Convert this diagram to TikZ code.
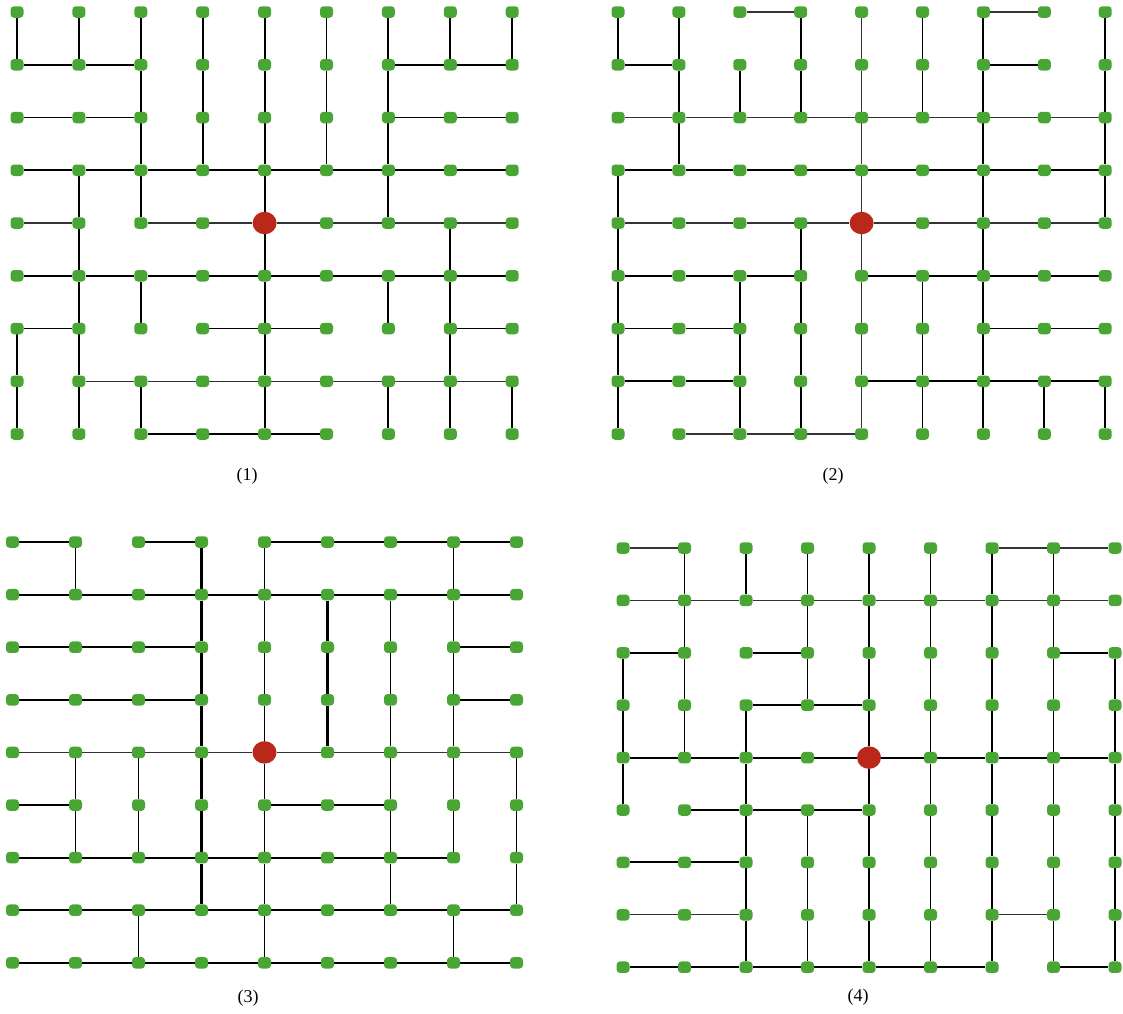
\documentclass[tikz,border=0pt]{standalone}
\usepackage{fontspec}
\setmainfont{Liberation Serif}
\pgfdeclarelayer{bg}
\pgfsetlayers{bg,main}
\definecolor{gnode}{RGB}{74,166,52}
\definecolor{rnode}{RGB}{186,40,26}
\tikzset{
 gn/.style={draw=none, fill=gnode, rounded corners=3.5pt, minimum width=13pt, minimum height=11.5pt, inner sep=0pt},
 rn/.style={ellipse, fill=rnode, minimum width=24pt, minimum height=22.5pt, inner sep=0pt},
 ed/.style={line width=1.9pt, black},
 thinedge/.style={line width=1.3pt, black!80},
 thickedge/.style={line width=2.8pt, black},
 captext/.style={font=\fontsize{18}{21}\selectfont, inner sep=0pt}
}
\usetikzlibrary{shapes.geometric}
\newcommand\mkpanel[5]{%
 \foreach \c in {0,...,8}{\foreach \r in {0,...,8}{%
   \def\st{gn}\ifnum\c=4 \ifnum\r=4 \def\st{rn}\fi\fi
   \node[\st] (#1-\c-\r) at ({#2+\c*#3}, {#4+\r*#5}) {};
 }}%
}
\newcommand\hed[4]{%
 \foreach \c in {#4}{\pgfmathtruncatemacro\nextc{\c+1}\draw[#3] (#1-\c-#2) -- (#1-\nextc-#2);}}
\newcommand\ved[4]{%
 \foreach \c in {#4}{\pgfmathtruncatemacro\nextr{#2+1}\draw[#3] (#1-\c-#2) -- (#1-\c-\nextr);}}
\begin{document}
\begin{tikzpicture}[x=1pt,y=-1pt]
\useasboundingbox (0,0) rectangle (1123,1013);
\mkpanel{A}{17}{61.9}{12}{52.75}
\mkpanel{B}{618}{60.9}{12}{52.75}
\mkpanel{C}{12.5}{63.0}{542}{52.6}
\mkpanel{D}{623}{61.5}{548}{52.4}
\node[captext] (capA) at (247,476) {(1)};
\node[captext] (capB) at (833,476) {(2)};
\node[captext] (capC) at (248,998) {(3)};
\node[captext] (capD) at (858,997) {(4)};
\begin{pgfonlayer}{bg}
% panel 1
\hed{A}{1}{ed}{0,1,6,7}
\hed{A}{2}{ed}{0,1,6,7}
\hed{A}{3}{ed}{0,...,7}
\hed{A}{4}{thinedge}{0,2,3,4,5,6,7}
\hed{A}{5}{ed}{0,...,7}
\hed{A}{6}{ed}{0,3,4,7}
\hed{A}{7}{thinedge}{1,2,3,4,5,6,7}
\hed{A}{8}{ed}{2,3,4}
\ved{A}{0}{ed}{0,...,8}
\ved{A}{1}{ed}{2,3,4,5,6}
\ved{A}{2}{ed}{2,3,4,5,6}
\ved{A}{3}{ed}{1,2,4,6}
\ved{A}{4}{ed}{1,4,7}
\ved{A}{5}{ed}{1,2,4,6,7}
\ved{A}{6}{ed}{0,1,4,7}
\ved{A}{7}{ed}{0,1,2,4,6,7,8}
% panel 2
\hed{B}{0}{thinedge}{2,6}
\hed{B}{1}{ed}{0,6}
\hed{B}{2}{thinedge}{0,...,7}
\hed{B}{3}{ed}{0,...,7}
\hed{B}{4}{thinedge}{0,...,7}
\hed{B}{5}{ed}{0,1,2,4,5,6,7}
\hed{B}{6}{ed}{0,1,6,7}
\hed{B}{7}{ed}{0,1,4,5,6,7}
\hed{B}{8}{thinedge}{1,2,3}
\ved{B}{0}{ed}{0,1,3,5,6,8}
\ved{B}{1}{ed}{1,2,3,5,6,8}
\ved{B}{2}{ed}{1,6,8}
\ved{B}{3}{ed}{0,6,8}
\ved{B}{4}{ed}{0,3,6}
\ved{B}{5}{ed}{0,2,3,5,6}
\ved{B}{6}{ed}{0,2,3,5,6}
\ved{B}{7}{ed}{0,2,3,5,6,7,8}
\foreach \rr in {0,...,7}{\ved{B}{\rr}{thinedge}{4}}
% panel 3
\hed{C}{0}{ed}{0,2,4,5,6,7}
\hed{C}{1}{ed}{0,...,7}
\hed{C}{2}{ed}{0,1,2,7}
\hed{C}{3}{ed}{0,1,2,7}
\hed{C}{4}{thinedge}{0,...,7}
\hed{C}{5}{ed}{0,4,5}
\hed{C}{6}{ed}{0,...,6}
\hed{C}{7}{ed}{0,...,7}
\hed{C}{8}{ed}{0,...,7}
\ved{C}{0}{ed}{1,4,7}
\ved{C}{1}{ed}{4,6,7}
\ved{C}{2}{ed}{4,6,7}
\ved{C}{3}{ed}{4,6,7}
\ved{C}{4}{ed}{1,2,4,6,7,8}
\ved{C}{5}{ed}{1,2,4,6,7,8}
\ved{C}{6}{ed}{4,6,8}
\ved{C}{7}{ed}{2,4,7}
\foreach \rr in {0,...,6}{\ved{C}{\rr}{thickedge}{3}}
\foreach \rr in {1,2,3}{\ved{C}{\rr}{thickedge}{5}}
% panel 4
\hed{D}{0}{thinedge}{0,6,7}
\hed{D}{1}{thinedge}{0,...,7}
\hed{D}{2}{ed}{0,2,7}
\hed{D}{3}{ed}{2,3}
\hed{D}{4}{ed}{0,...,7}
\hed{D}{5}{ed}{1,2,3}
\hed{D}{6}{ed}{0,1}
\hed{D}{7}{thinedge}{0,1,6}
\hed{D}{8}{ed}{0,1,2,3,4,5,7}
\ved{D}{0}{ed}{1,2,3,4,5,6,7}
\ved{D}{1}{ed}{1,3,4,5,6,7}
\ved{D}{2}{ed}{0,1,3,4,5,6,7,8}
\ved{D}{3}{ed}{0,1,2,4,5,6,7,8}
\ved{D}{4}{ed}{0,2,4,5,6,7,8}
\ved{D}{5}{ed}{2,3,4,5,6,7,8}
\ved{D}{6}{ed}{2,3,4,5,6,7,8}
\ved{D}{7}{ed}{2,3,4,5,6,7,8}
\end{pgfonlayer}
\end{tikzpicture}
\end{document}
